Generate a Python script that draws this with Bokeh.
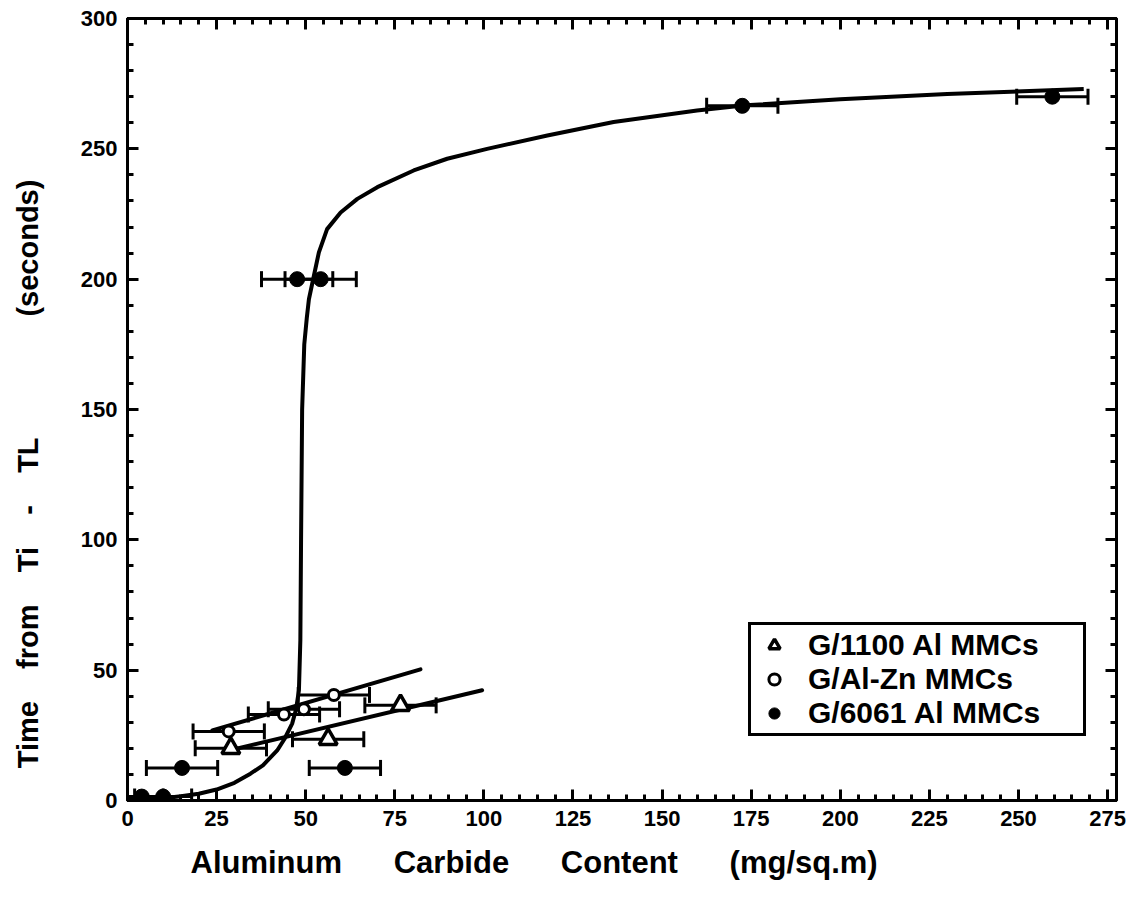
from bokeh.plotting import figure
from bokeh.models import (ColumnDataSource, Whisker, TeeHead, SingleIntervalTicker,
                          LinearAxis, Legend, LegendItem, Title, Range1d)
from bokeh.embed import file_html
from bokeh.resources import INLINE

# ---------------- data ----------------
al6061_x = [4, 10, 15.3, 61.0, 47.6, 54.2, 172.5, 259.5]
al6061_y = [1.5, 1.5, 12.5, 12.5, 200, 200, 266.5, 270]
al6061_xerr = [6, 8, 10, 10, 10, 10, 10, 10]

alzn_x = [28.4, 43.9, 49.5, 57.9]
alzn_y = [26.5, 33.0, 35.0, 40.5]
alzn_xerr = [10, 10, 10, 10]

al1100_x = [29.0, 56.3, 76.6]
al1100_y = [20.0, 23.5, 36.5]
al1100_xerr = [10, 10, 10]

alzn_fit_x = [23.8, 82.2]
alzn_fit_y = [26.9, 50.3]
al1100_fit_x = [28.5, 99.5]
al1100_fit_y = [19.2, 42.3]

curve_x = [0, 5, 10, 15, 20, 25, 30, 34.5, 38, 42, 44, 46.2, 47.3, 48.1, 48.5,
           48.7, 49.0, 49.6, 50.3, 50.9, 52.3, 53.7, 56.0, 59.8, 64.5, 70.1,
           80.3, 89.7, 100.9, 117.8, 136.4, 159.8, 173.4, 200, 230, 268.3]
curve_y = [0.3, 0.5, 0.9, 1.6, 2.6, 4.2, 6.8, 10.3, 13.5, 19.2, 23.5, 29.5, 35,
           42.3, 61.5, 100, 150, 175, 185, 192.3, 201.3, 210.3, 219.2, 225.6,
           230.8, 235.3, 241.7, 246.2, 250, 255.1, 260.3, 264.7, 266.7, 269,
           271, 273]

legend_labels = ["G/1100 Al MMCs", "G/Al-Zn MMCs", "G/6061 Al MMCs"]
NB = "\u00a0"
x_title = (NB * 5 + " ").join(["Aluminum", "Carbide", "Content", "(mg/sq.m)"])
# trailing no-break spaces shift the (centred) axis label down like the original
y_title = ("Time" + NB * 3 + " from" + NB * 3 + " Ti" + NB * 3 + " -" + NB * 3 +
           " TL" + NB * 14 + " (seconds)" + NB * 16)

FONT = "Liberation Sans"

p = figure(width=1142, height=903, x_range=Range1d(0, 277.5), y_range=Range1d(0, 300),
           output_backend="svg", toolbar_location=None,
           min_border_left=127, min_border_right=26, min_border_top=18,
           min_border_bottom=103)
p.xgrid.visible = False
p.ygrid.visible = False
p.outline_line_color = "black"
p.outline_line_width = 3
p.background_fill_color = "white"
p.border_fill_color = "white"


def style_axis(ax, interval, show_labels):
    ax.ticker = SingleIntervalTicker(interval=interval, num_minor_ticks=5)
    ax.axis_line_width = 3
    ax.axis_line_color = "black"
    ax.major_tick_in = 11
    ax.major_tick_out = 0
    ax.minor_tick_in = 6
    ax.minor_tick_out = 0
    ax.major_tick_line_width = 3
    ax.minor_tick_line_width = 3
    ax.major_label_text_font = FONT
    ax.major_label_text_font_style = "bold"
    if show_labels:
        ax.major_label_text_color = "black"
        ax.major_label_text_font_size = "22px"
        ax.major_label_standoff = 10
    else:
        ax.major_label_text_color = None
        ax.major_label_text_alpha = 0
        ax.major_label_text_font_size = "1px"
        ax.major_label_standoff = 0


style_axis(p.xaxis[0], 25, True)
style_axis(p.yaxis[0], 50, True)
top = LinearAxis()
style_axis(top, 25, False)
right = LinearAxis()
style_axis(right, 50, False)
p.add_layout(top, "above")
p.add_layout(right, "right")

yax = p.yaxis[0]
yax.axis_label = y_title
yax.axis_label_standoff = 34
yax.axis_label_text_font = FONT
yax.axis_label_text_font_style = "bold"
yax.axis_label_text_font_size = "29px"
yax.axis_label_text_color = "black"


def add_err(xs, ys, errs):
    src = ColumnDataSource(dict(y=ys, lo=[a - e for a, e in zip(xs, errs)],
                                hi=[a + e for a, e in zip(xs, errs)]))
    w = Whisker(source=src, base="y", lower="lo", upper="hi", dimension="width",
                line_width=3, line_color="black",
                upper_head=TeeHead(size=16, line_width=3, line_color="black"),
                lower_head=TeeHead(size=16, line_width=3, line_color="black"))
    p.add_layout(w)


add_err(al6061_x, al6061_y, al6061_xerr)
add_err(alzn_x, alzn_y, alzn_xerr)
add_err(al1100_x, al1100_y, al1100_xerr)

p.line(curve_x, curve_y, line_width=4, line_color="black", line_join="round")
p.line(alzn_fit_x, alzn_fit_y, line_width=4, line_color="black", line_cap="round")
p.line(al1100_fit_x, al1100_fit_y, line_width=4, line_color="black", line_cap="round")

r_tri = p.scatter(al1100_x, al1100_y, marker="triangle", size=18, fill_color="white",
                  line_color="black", line_width=3.5)
r_open = p.scatter(alzn_x, alzn_y, marker="circle", size=11, fill_color="white",
                   line_color="black", line_width=3)
r_fill = p.scatter(al6061_x, al6061_y, marker="circle", size=15, fill_color="black",
                   line_color="black", line_width=1)

legend = Legend(items=[LegendItem(label=legend_labels[0], renderers=[r_tri]),
                       LegendItem(label=legend_labels[1], renderers=[r_open]),
                       LegendItem(label=legend_labels[2], renderers=[r_fill])],
                location=(621, 64))
legend.border_line_color = "black"
legend.border_line_alpha = 1
legend.border_line_width = 3
legend.label_text_font = FONT
legend.label_text_font_style = "bold"
legend.label_text_font_size = "30px"
legend.label_text_color = "black"
legend.glyph_width = 40
legend.glyph_height = 28
legend.label_height = 28
legend.label_width = 272
legend.spacing = 0
legend.padding = 3
legend.label_standoff = 14
legend.margin = 0
legend.background_fill_color = "white"
legend.background_fill_alpha = 1
p.add_layout(legend)

p.add_layout(Title(text=x_title, align="left", offset=63, standoff=28,
                   text_font=FONT, text_font_style="bold", text_font_size="31px",
                   text_color="black"), "below")

open("out.html", "w").write(file_html(p, INLINE))
